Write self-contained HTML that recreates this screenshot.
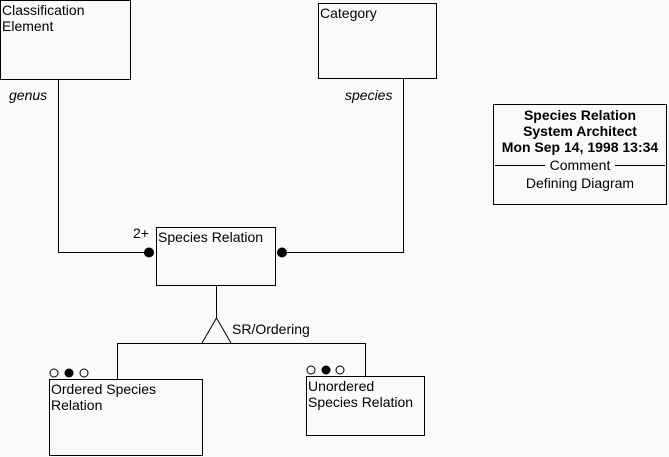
<!DOCTYPE html><html><head><style>body{margin:0;background:#fafafa}svg{display:block}text{font-family:"Liberation Sans",sans-serif;font-size:14px;fill:#000}</style></head><body>
<svg width="669" height="457" xmlns="http://www.w3.org/2000/svg">
<rect width="669" height="457" fill="#fafafa"/>
<g fill="none" stroke="#000" stroke-width="1">
<rect x="0.5" y="0.5" width="130" height="79"/>
<rect x="318.5" y="3.5" width="118" height="75"/>
<rect x="156.5" y="227.5" width="119" height="58"/>
<rect x="49.5" y="379.5" width="153" height="76"/>
<rect x="306.5" y="376.5" width="118" height="59"/>
<rect x="493.5" y="104.5" width="173" height="100"/>
<polyline points="58.5,80 58.5,252.5 148,252.5"/>
<polyline points="403.5,79 403.5,252.5 283,252.5"/>
<line x1="216.5" y1="286" x2="216.5" y2="318"/>
<polyline points="202,343 216.5,318 231,343"/>
<polyline points="117.5,379 117.5,343.5 365.5,343.5 365.5,376"/>
<line x1="495" y1="165.5" x2="545" y2="165.5"/>
<line x1="615" y1="165.5" x2="665" y2="165.5"/>
<circle cx="54" cy="373" r="4"/><circle cx="84" cy="373" r="4"/>
<circle cx="311" cy="370" r="4"/><circle cx="340" cy="370" r="4"/>
</g>
<circle cx="149" cy="252.5" r="5"/><circle cx="282" cy="252.5" r="5"/>
<circle cx="69" cy="373" r="4.5"/><circle cx="326" cy="370" r="4.5"/>
<text x="2" y="15">Classification</text><text x="2" y="31">Element</text>
<text x="320" y="18">Category</text>
<text x="9" y="100" font-style="italic">genus</text>
<text x="345" y="100" font-style="italic">species</text>
<text x="133" y="238">2+</text>
<text x="158" y="242">Species Relation</text>
<text x="232" y="334">SR/Ordering</text>
<text x="51" y="394">Ordered Species</text><text x="51" y="410">Relation</text>
<text x="308" y="391">Unordered</text><text x="308" y="407">Species Relation</text>
<g text-anchor="middle"><text x="580" y="120" font-weight="bold">Species Relation</text>
<text x="580" y="136" font-weight="bold">System Architect</text>
<text x="580" y="152" font-weight="bold">Mon Sep 14, 1998  13:34</text>
<text x="580" y="170">Comment</text>
<text x="580" y="188">Defining Diagram</text></g>
</svg></body></html>
